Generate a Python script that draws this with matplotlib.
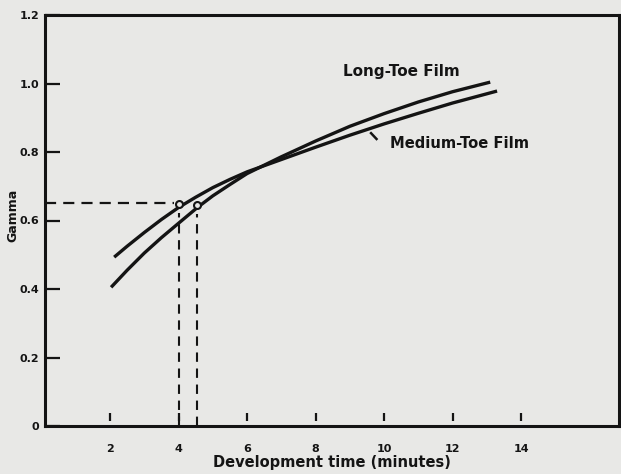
import matplotlib
matplotlib.use("Agg")
import matplotlib.pyplot as plt
from matplotlib.transforms import offset_copy

# Data
long_toe_x = [2.03, 2.5, 3.0, 3.5, 4.0, 4.55, 5.0, 5.5, 6.0, 7.0, 8.0, 9.0, 10.0, 11.0, 12.0, 13.1]
long_toe_y = [0.405, 0.455, 0.505, 0.55, 0.592, 0.638, 0.672, 0.705, 0.737, 0.786, 0.832, 0.875, 0.912, 0.946, 0.976, 1.004]

medium_toe_x = [2.12, 2.5, 3.0, 3.5, 4.0, 4.5, 5.0, 5.5, 6.0, 7.0, 8.0, 9.0, 10.0, 11.0, 12.0, 13.3]
medium_toe_y = [0.493, 0.525, 0.565, 0.603, 0.638, 0.668, 0.696, 0.72, 0.742, 0.778, 0.814, 0.849, 0.882, 0.913, 0.943, 0.978]

marked_x = [4.0, 4.55]
marked_y = [0.648, 0.645]
gamma_level = 0.65

x_ticks = [2, 4, 6, 8, 10, 12, 14]
y_ticks = [0, 0.2, 0.4, 0.6, 0.8, 1.0, 1.2]
y_tick_labels = ["0", "0.2", "0.4", "0.6", "0.8", "1.0", "1.2"]

ink = "#141414"
paper = "#e8e8e6"

plt.rcParams['font.family'] = ['DejaVu Sans']
fig = plt.figure(figsize=(6.21, 4.74), dpi=100, facecolor=paper)
ax = fig.add_axes([45/621, 1-426/474, (619-45)/621, (426-15)/474])
ax.set_facecolor(paper)

ax.plot(long_toe_x, long_toe_y, color=ink, lw=2.4, solid_capstyle='butt', solid_joinstyle='round')
ax.plot(medium_toe_x, medium_toe_y, color=ink, lw=2.4, solid_capstyle='butt', solid_joinstyle='round')

# dashed guides
ax.plot([0.1, marked_x[0] - 0.12], [gamma_level, gamma_level], color=ink, lw=1.6, dashes=(5, 3.2))
for mx, my in zip(marked_x, marked_y):
    ax.plot([mx, mx], [0, my - 0.025], color=ink, lw=1.5, dashes=(4.5, 3.2))
ax.plot(marked_x, marked_y, linestyle='none', marker='o', ms=5, mfc=paper, mec=ink, mew=1.5)

ax.text(8.8, 1.034, "Long-Toe Film", fontsize=11, fontweight='bold', color=ink, va='center')
ax.text(10.17, 0.826, "Medium-Toe Film", fontsize=10.6, fontweight='bold', color=ink, va='center')
ax.plot([9.62, 9.78], [0.855, 0.838], color=ink, lw=1.8)

ax.set_xlim(0.1, 16.86)
ax.set_ylim(0, 1.2)
ax.set_xticks(x_ticks)
ax.set_xticklabels([str(t) for t in x_ticks])
ax.set_yticks(y_ticks)
ax.set_yticklabels(y_tick_labels)
ax.tick_params(axis='x', direction='in', length=0, colors=ink, labelsize=8, pad=13)
ax.tick_params(axis='y', direction='in', length=11, width=1.6, colors=ink, labelsize=8, pad=4)
for lab in ax.get_xticklabels() + ax.get_yticklabels():
    lab.set_fontweight('bold')

# x tick marks sit a little above the axis line, as in the reference
tick_tr = offset_copy(ax.transData, fig=fig, x=0, y=9, units='dots')
ax.plot(x_ticks, [0] * len(x_ticks), linestyle='none', marker='|', ms=6, mew=1.6,
        color=ink, transform=tick_tr, clip_on=False)

for s in ax.spines.values():
    s.set_linewidth(2.2)
    s.set_color(ink)

fig.text(332/621, 1-463/474, "Development time (minutes)", fontsize=10.5, fontweight='bold',
         color=ink, ha='center', va='center')
fig.text(13/621, 1-215/474, "Gamma", fontsize=9, fontweight='bold', color=ink,
         ha='center', va='center', rotation=90)

fig.savefig("out.png", dpi=100, facecolor=paper)
